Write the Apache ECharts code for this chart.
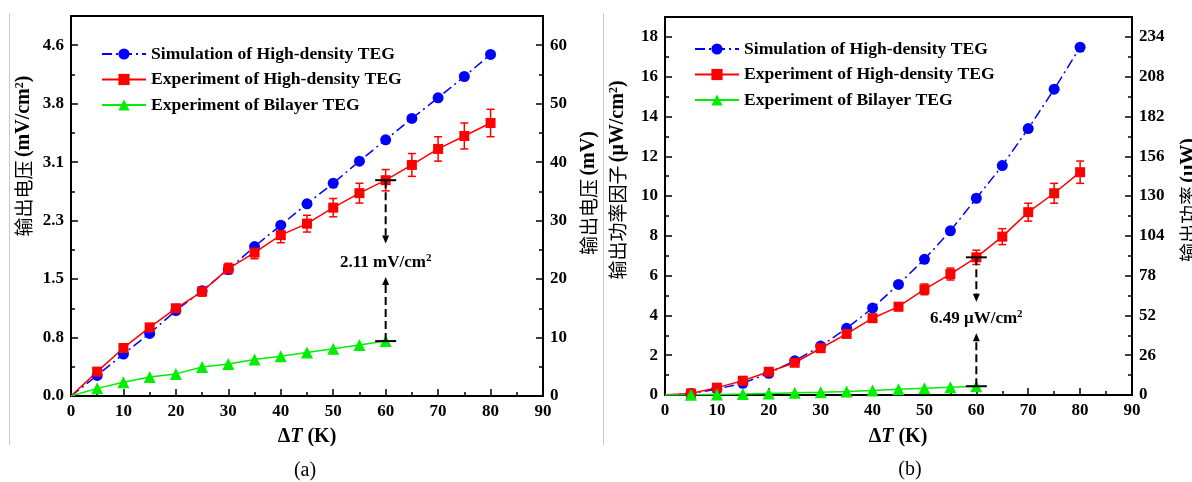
<!DOCTYPE html>
<html><head><meta charset="utf-8">
<script src="https://cdn.jsdelivr.net/npm/echarts@6/dist/echarts.min.js"></script>
<style>html,body{margin:0;padding:0;background:#fff}#c{width:1192px;height:482px}</style>
</head><body><div id="c"></div>
<script>
// ---------- data ----------
const dT = [0,5,10,15,20,25,30,35,40,45,50,55,60,65,70,75,80];
const dTBilayer = [0,5,10,15,20,25,30,35,40,45,50,55,60];
// (a) output voltage, mV/cm2
const simVoltage = [0,0.27,0.55,0.82,1.12,1.38,1.66,1.96,2.24,2.52,2.79,3.08,3.36,3.64,3.91,4.19,4.48];
const expVoltage = [0,0.32,0.63,0.90,1.15,1.37,1.67,1.88,2.11,2.26,2.47,2.66,2.83,3.03,3.24,3.41,3.58];
const expVoltageErr = [0,0.02,0.03,0.04,0.05,0.06,0.07,0.08,0.10,0.11,0.12,0.13,0.14,0.15,0.16,0.17,0.18];
const bilayerVoltage = [0,0.10,0.18,0.25,0.29,0.38,0.42,0.48,0.52,0.57,0.62,0.67,0.72];
// (b) output power factor, uW/cm2
const simPower = [0,0.07,0.30,0.59,1.09,1.72,2.46,3.35,4.37,5.56,6.82,8.25,9.89,11.53,13.39,15.37,17.48];
const expPower = [0,0.08,0.37,0.72,1.17,1.62,2.35,3.07,3.86,4.44,5.31,6.08,6.92,7.96,9.19,10.14,11.20];
const expPowerErr = [0,0.02,0.04,0.06,0.08,0.10,0.12,0.14,0.16,0.20,0.27,0.30,0.36,0.40,0.45,0.50,0.56];
const bilayerPower = [0,0.01,0.03,0.05,0.08,0.11,0.14,0.18,0.23,0.29,0.34,0.39,0.44];
// annotation at dT = 60: [x, top, bottom, arrowDownTip, arrowUpTip, labelY, diff]
const annVoltage = [60, 2.83, 0.72, 2.00, 1.56, 1.75, 2.11];
const annPower = [60, 6.92, 0.44, 4.69, 3.10, 3.84, 6.49];
// axis ticks
const xTicks = {min:0, max:90, interval:10};
const voltTickStep = 4.6/6;       // left axis (a), labels 0.0 … 4.6
const voltRightTicks = {min:0, max:65, interval:10};
const powerTicks = {min:0, max:19, interval:2};
const powerRightTicks = {min:0, max:247, interval:26};
const names = ['Simulation of High-density TEG','Experiment of High-density TEG','Experiment of Bilayer TEG'];

// ---------- styles ----------
const FONT = "'Liberation Serif','Times New Roman','Noto Sans CJK SC',serif";
const CJK = "'Noto Sans CJK SC',sans-serif";
const BLUE='#0000ff', RED='#ff0000', GREEN='#00ee00';
const pair = (xs, ys) => xs.map((x,i)=>[x, ys[i]]);
const triple = (xs, ys, es) => xs.map((x,i)=>[x, ys[i], es[i]]).filter(d=>d[2]>0);

function axisCommon(){
  return {
    axisLine:{show:true, onZero:false, lineStyle:{color:'#000', width:2}},
    axisTick:{show:true, inside:true, length:7, lineStyle:{color:'#000', width:1.5}},
    minorTick:{show:true, splitNumber:2, length:4, lineStyle:{color:'#000', width:1.5}},
    splitLine:{show:false},
    axisLabel:{color:'#000', fontFamily:FONT, fontSize:17, fontWeight:'bold', margin:7, showMaxLabel:false}
  };
}
function xAxis(gi){
  const a = axisCommon();
  a.axisLabel.showMaxLabel = true;
  return Object.assign(a, {type:'value', gridIndex:gi, min:xTicks.min, max:xTicks.max, interval:xTicks.interval});
}
function yAxis(gi, pos, t, fmt){
  const a = axisCommon();
  Object.assign(a, {type:'value', gridIndex:gi, position:pos, min:t.min, max:t.max, interval:t.interval});
  if (fmt) a.axisLabel.formatter = fmt;
  return a;
}

function errRender(params, api){
  const x=api.value(0), y=api.value(1), e=api.value(2);
  const t=api.coord([x,y+e]), b=api.coord([x,y-e]);
  const hw=4, st={stroke:RED, lineWidth:1.5};
  return {type:'group', children:[
    {type:'line', shape:{x1:t[0],y1:t[1],x2:b[0],y2:b[1]}, style:st},
    {type:'line', shape:{x1:t[0]-hw,y1:t[1],x2:t[0]+hw,y2:t[1]}, style:st},
    {type:'line', shape:{x1:b[0]-hw,y1:b[1],x2:b[0]+hw,y2:b[1]}, style:st}
  ]};
}
function annRenderFactory(unit){
  return function(params, api){
    const x=api.value(0);
    const pT=api.coord([x,api.value(1)]), pB=api.coord([x,api.value(2)]);
    const aD=api.coord([x,api.value(3)]), aU=api.coord([x,api.value(4)]);
    const pL=api.coord([x,api.value(5)]);
    const cx=pT[0], cap=10.5, ah=8, aw=3.5;
    const dash={stroke:'#000', lineWidth:2, lineDash:[8,4]};
    const solid={stroke:'#000', lineWidth:2};
    return {type:'group', children:[
      {type:'line', shape:{x1:cx,y1:pT[1],x2:cx,y2:aD[1]-ah}, style:dash},
      {type:'polygon', shape:{points:[[cx-aw,aD[1]-ah],[cx+aw,aD[1]-ah],[cx,aD[1]]]}, style:{fill:'#000'}},
      {type:'line', shape:{x1:cx,y1:pB[1],x2:cx,y2:aU[1]+ah}, style:dash},
      {type:'polygon', shape:{points:[[cx-aw,aU[1]+ah],[cx+aw,aU[1]+ah],[cx,aU[1]]]}, style:{fill:'#000'}},
      {type:'line', shape:{x1:cx-cap,y1:pT[1],x2:cx+cap,y2:pT[1]}, style:solid},
      {type:'line', shape:{x1:cx-cap,y1:pB[1],x2:cx+cap,y2:pB[1]}, style:solid},
      {type:'text', x:cx, y:pL[1], style:{
        text: api.value(6).toFixed(2) + ' ' + unit + '{s|2}',
        fill:'#000', fontFamily:FONT, fontSize:17, fontWeight:'bold',
        align:'center', verticalAlign:'middle',
        rich:{s:{fontSize:11, fontWeight:'bold', fontFamily:FONT, padding:[0,0,8,0]}}
      }}
    ]};
  };
}

function lineSeries(name, color, symbol, size, data, xi, yi, dashed){
  return {
    type:'line', name, xAxisIndex:xi, yAxisIndex:yi, data,
    symbol, symbolSize:size, showAllSymbol:true,
    itemStyle:{color}, lineStyle:{color, width:1.5, type: dashed ? [10,4,2,4] : 'solid'},
    emphasis:{disabled:true}, animation:false
  };
}
function noOrigin(data){ return data.map(d => d[0]===0 ? {value:d, symbol:'none'} : d); }

const legendCommon = {
  orient:'vertical', itemWidth:44, itemHeight:14, itemGap:7.5, padding:0,
  data:names, selectedMode:false,
  textStyle:{color:'#000', fontFamily:FONT, fontSize:17.6, fontWeight:'bold', lineHeight:18}
};

function titleText(x, y, cn, unit, sup, tail){
  return {type:'text', x, y, rotation:Math.PI/2, style:{
    text:'{c|'+cn+'} {b|'+unit+'}' + (sup ? '{s|'+sup+'}' : '') + '{b|'+tail+'}',
    align:'center', verticalAlign:'middle', fill:'#000',
    rich:{
      c:{fontFamily:CJK, fontSize:19, fill:'#000'},
      b:{fontFamily:FONT, fontSize:20, fontWeight:'bold', fill:'#000'},
      s:{fontFamily:FONT, fontSize:12, fontWeight:'bold', fill:'#000', padding:[0,0,9,0]}
    }
  }};
}
function xTitle(x, y){
  return {type:'text', x, y, style:{
    text:'{b|Δ}{i|T}{b| (K)}', align:'center', verticalAlign:'middle', fill:'#000',
    rich:{
      b:{fontFamily:FONT, fontSize:20, fontWeight:'bold', fill:'#000'},
      i:{fontFamily:FONT, fontSize:20, fontWeight:'bold', fontStyle:'italic', fill:'#000'}
    }
  }};
}

const option = {
  backgroundColor:'#fff',
  animation:false,
  grid:[
    {left:71, top:16, width:472, height:380, show:true, borderColor:'#000', borderWidth:2, backgroundColor:'transparent'},
    {left:665, top:17, width:467, height:378, show:true, borderColor:'#000', borderWidth:2, backgroundColor:'transparent'}
  ],
  xAxis:[xAxis(0), xAxis(1)],
  yAxis:[
    yAxis(0,'left',{min:0, max:voltRightTicks.max*voltTickStep/10, interval:voltTickStep}, v=>v.toFixed(1)),
    yAxis(0,'right',voltRightTicks),
    yAxis(1,'left',powerTicks),
    yAxis(1,'right',powerRightTicks)
  ],
  legend:[
    Object.assign({left:101, top:45}, legendCommon),
    Object.assign({left:694, top:40}, legendCommon)
  ],
  series:[
    lineSeries(names[0], BLUE, 'circle', 11, noOrigin(pair(dT, simVoltage)), 0, 0, true),
    {type:'custom', xAxisIndex:0, yAxisIndex:0, data:triple(dT, expVoltage, expVoltageErr), renderItem:errRender, silent:true, z:3},
    lineSeries(names[1], RED, 'rect', 10, noOrigin(pair(dT, expVoltage)), 0, 0, false),
    lineSeries(names[2], GREEN, 'triangle', 12, noOrigin(pair(dTBilayer, bilayerVoltage)), 0, 0, false),
    {type:'custom', xAxisIndex:0, yAxisIndex:0, data:[annVoltage], renderItem:annRenderFactory('mV/cm'), silent:true, z:5},

    lineSeries(names[0], BLUE, 'circle', 11, noOrigin(pair(dT, simPower)), 1, 2, true),
    {type:'custom', xAxisIndex:1, yAxisIndex:2, data:triple(dT, expPower, expPowerErr), renderItem:errRender, silent:true, z:3},
    lineSeries(names[1], RED, 'rect', 10, noOrigin(pair(dT, expPower)), 1, 2, false),
    lineSeries(names[2], GREEN, 'triangle', 12, noOrigin(pair(dTBilayer, bilayerPower)), 1, 2, false),
    {type:'custom', xAxisIndex:1, yAxisIndex:2, data:[annPower], renderItem:annRenderFactory('μW/cm'), silent:true, z:5}
  ],
  graphic:[
    {type:'line', shape:{x1:9.5,y1:13,x2:9.5,y2:445}, style:{stroke:'#c8c8c8', lineWidth:1}},
    {type:'line', shape:{x1:603.5,y1:13,x2:603.5,y2:445}, style:{stroke:'#c8c8c8', lineWidth:1}},
    titleText(24, 156, '输出电压', '(mV/cm', '2', ')'),
    titleText(589, 193, '输出电压', '(mV', '', ')'),
    titleText(618, 180, '输出功率因子', '(μW/cm', '2', ')'),
    titleText(1189, 200, '输出功率', '(μW', '', ')'),
    xTitle(307, 437),
    xTitle(898, 437),
    {type:'text', x:305, y:471, style:{text:'(a)', fontFamily:FONT, fontSize:20, fill:'#000', align:'center', verticalAlign:'middle'}},
    {type:'text', x:910, y:470, style:{text:'(b)', fontFamily:FONT, fontSize:20, fill:'#000', align:'center', verticalAlign:'middle'}}
  ]
};
const chart = echarts.init(document.getElementById('c'));
chart.setOption(option);
</script>
</body></html>
